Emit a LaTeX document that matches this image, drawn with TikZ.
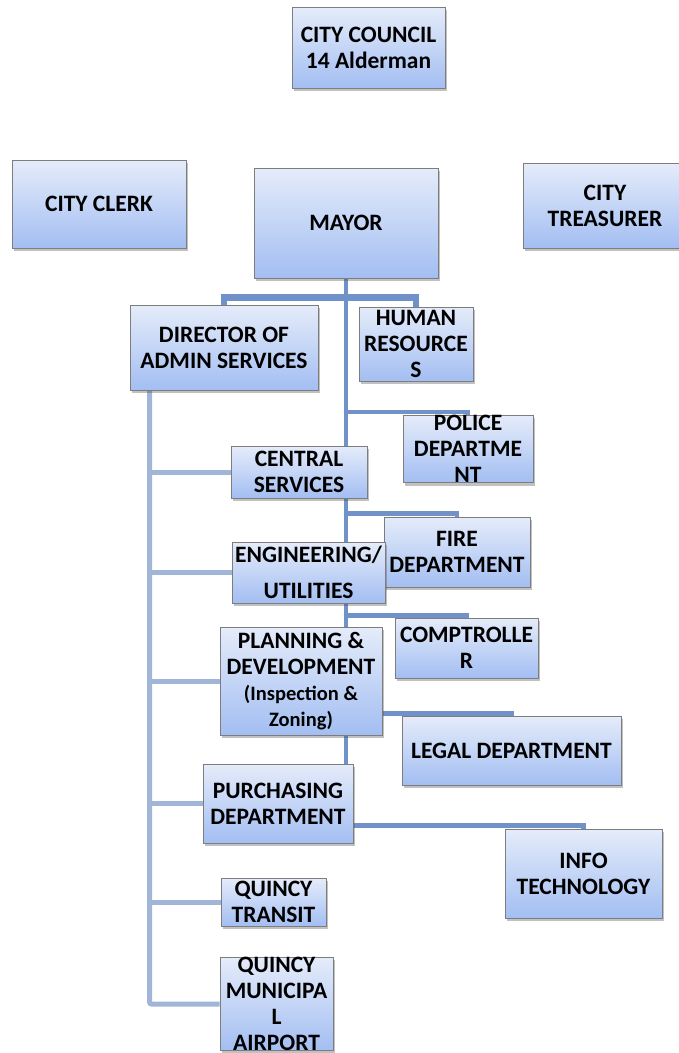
\documentclass[tikz,border=0pt]{standalone}
\usepackage{fontspec}
\setmainfont{Carlito}
\usetikzlibrary{shadows,backgrounds,calc}

\definecolor{boxtop}{RGB}{229,236,250}
\definecolor{boxbot}{RGB}{163,190,242}
\definecolor{boxedge}{RGB}{125,125,125}
\definecolor{mainln}{RGB}{112,146,200}
\definecolor{sideln}{RGB}{160,181,216}

\tikzset{
  unit/.style={draw=boxedge, line width=0.9pt, top color=boxtop, bottom color=boxbot,
    align=center, inner sep=0pt,
    font=\bfseries\fontsize{23.5}{26}\selectfont,
    drop shadow={shadow xshift=2pt, shadow yshift=-3pt, opacity=0.35, fill=black!70}},
  mainlink/.style={draw=mainln, line width=4.5pt},
  branch/.style={draw=mainln, line width=4.5pt, line cap=round},
  barlink/.style={draw=mainln, line width=6.5pt, line cap=round},
  sidelink/.style={draw=sideln, line width=5pt},
}

\begin{document}
\begin{tikzpicture}[x=1pt, y=-1pt]
\useasboundingbox (0,0) rectangle (678,1053);

% top tier
\node[unit, minimum width=153pt, minimum height=81pt]  (council)  at (368.5,47.5) {CITY COUNCIL\\14 Alderman};
\node[unit, minimum width=174pt, minimum height=88pt]  (clerk)    at (99,204)     {CITY CLERK};
\node[unit, minimum width=184pt, minimum height=110pt] (mayor)    at (346,223)    {MAYOR};
\node[unit, minimum width=164pt, minimum height=85pt]  (treas)    at (605,205.5)  {CITY\\TREASURER};

% reporting to the mayor
\node[unit, minimum width=188pt, minimum height=85pt]  (dir)      at (224,347.5)  {DIRECTOR OF\\ADMIN SERVICES};
\node[unit, minimum width=114pt, minimum height=74pt]  (hr)       at (416,344)    {HUMAN\\RESOURCE\\S};
\node[unit, minimum width=130pt, minimum height=66pt]  (police)   at (468,449)    {POLICE\\DEPARTME\\NT};
\node[unit, minimum width=146pt, minimum height=70pt]  (fire)     at (457,552)    {FIRE\\DEPARTMENT};
\node[unit, minimum width=143pt, minimum height=60pt]  (comp)     at (466.5,648)  {COMPTROLLE\\R};
\node[unit, minimum width=219pt, minimum height=69pt]  (legal)    at (511.5,750.5){LEGAL DEPARTMENT};
\node[unit, minimum width=157pt, minimum height=89pt]  (info)     at (583.5,873.5){INFO\\TECHNOLOGY};

% admin services divisions
\node[unit, minimum width=136pt, minimum height=52pt]  (central)  at (299,472)    {CENTRAL\\SERVICES};
\node[unit, minimum width=153pt, minimum height=61pt]  (eng)      at (308.5,572.5){ENGINEERING/\\[10pt]UTILITIES};
\node[unit, minimum width=162pt, minimum height=108pt] (plan)     at (301,681)    {PLANNING \&\\DEVELOPMENT\\{\fontsize{20.5}{26}\selectfont(Inspection \&}\\{\fontsize{20.5}{26}\selectfont Zoning)}};
\node[unit, minimum width=150pt, minimum height=79pt]  (purch)    at (278,803.5)  {PURCHASING\\DEPARTMENT};
\node[unit, minimum width=105pt, minimum height=48pt]  (transit)  at (273.5,902)  {QUINCY\\TRANSIT};
\node[unit, minimum width=113pt, minimum height=92pt]  (airport)  at (276.5,1004) {QUINCY\\MUNICIPA\\L\\AIRPORT};

\begin{scope}[on background layer]
  % mayor's trunk and branches
  \draw[mainlink] (mayor.south) -- (mayor.south |- purch.north);
  \draw[barlink] (dir.north) -- ++(0,-7) -| (hr.north);
  \draw[branch] ($(mayor.south |- police.north)+(0,3pt)$) -| (police.north);
  \draw[branch] ($(mayor.south |- fire.north)+(0,3pt)$) -| (fire.north);
  \draw[branch] ($(mayor.south |- comp.north)+(0,2pt)$) -| (comp.north);
  \draw[branch] ($(mayor.south |- legal.north)+(0,2pt)$) -| (legal.north);
  \draw[branch] ($(mayor.south |- info.north)+(0,3pt)$) -| (info.north);

  % admin services trunk and branches
  \coordinate (L) at ($(dir.south west)+(20pt,0)$);
  \draw[sidelink, rounded corners=2pt] (L) |- (airport.west);
  \foreach \n in {central,eng,plan,purch,transit}
    \draw[sidelink] (L |- \n.west) -- (\n.west);
\end{scope}
\end{tikzpicture}
\end{document}
